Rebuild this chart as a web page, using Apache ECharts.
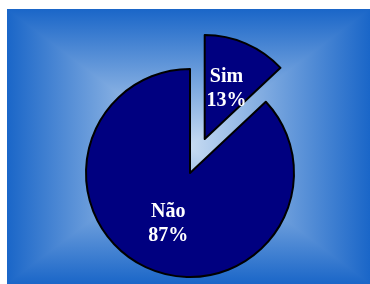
<!DOCTYPE html>
<html>
<head>
<meta charset="utf-8">
<script src="https://cdn.jsdelivr.net/npm/echarts@6/dist/echarts.min.js"></script>
<style>
  html, body { margin: 0; padding: 0; background: #fff; }
  #bg {
    position: absolute; left: 7px; top: 9px; width: 363px; height: 275px;
    background:
      linear-gradient(to right, #1a66c8, #c8dcf2, #1a66c8),
      linear-gradient(to bottom, #1a66c8, #c8dcf2, #1a66c8);
    background-blend-mode: darken;
  }
  #chart { position: absolute; left: 0; top: 0; width: 370px; height: 284px; }
</style>
</head>
<body>
<div id="bg"></div>
<div id="chart"></div>
<script>
// respostas
const categories = ["Sim", "Não"];
const values = [13, 87];

const chart = echarts.init(document.getElementById("chart"));

const option = {
  backgroundColor: "transparent",
  animation: false,
  series: [
    {
      type: "pie",
      center: [190, 173],
      radius: 104,
      startAngle: 90,
      clockwise: true,
      selectedMode: "single",
      selectedOffset: 37,
      emphasis: { disabled: true },
      itemStyle: {
        color: "#000080",
        borderColor: "#000",
        borderWidth: 2,
      },
      label: {
        position: "inside",
        formatter: "{b}\n{d}%",
        color: "#fff",
        fontFamily: "Liberation Serif",
        fontWeight: "bold",
        fontSize: 20,
        lineHeight: 24,
      },
      labelLine: { show: false },
      data: categories.map((name, i) => ({
        name,
        value: values[i],
        selected: i === 0,
      })),
    },
  ],
};

chart.setOption(option);
</script>
</body>
</html>
